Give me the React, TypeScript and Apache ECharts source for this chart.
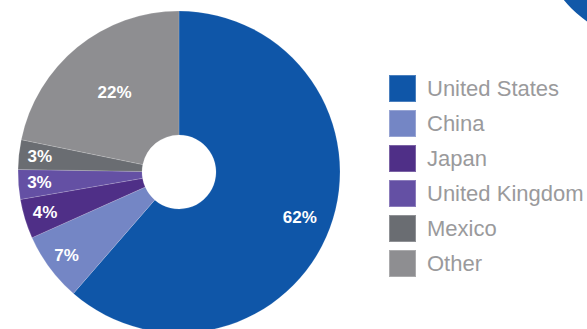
import React, { useEffect, useRef } from "react";
import * as echarts from "echarts";

const categories = ["United States", "China", "Japan", "United Kingdom", "Mexico", "Other"];
const values = [62, 7, 4, 3, 3, 22];
const colors = ["#0f56a8", "#7486c5", "#4f2f87", "#6450a4", "#6a6d72", "#8e8e91"];
// which label ring each slice's label sits on
const labelRing = ["mid", "outer", "outer", "outer", "outer", "inner"];

const CX = 179;
const CY = 172;
const R = 161;
const R0 = 37;

export default function App() {
  const ref = useRef<HTMLDivElement>(null);
  useEffect(() => {
    if (!ref.current) return;
    const chart = echarts.init(ref.current, undefined, { renderer: "svg" });
    const mainData = categories.map((name, i) => ({
      name,
      value: values[i],
      itemStyle: { color: colors[i] },
    }));
    const labelSeries = (ring: string, inner: number) => ({
      type: "pie",
      center: [CX, CY],
      radius: [inner, R],
      startAngle: 90,
      silent: true,
      legendHoverLink: false,
      animation: false,
      itemStyle: { color: "rgba(0,0,0,0)" },
      labelLine: { show: false },
      emphasis: { disabled: true },
      data: categories.map((name, i) => ({
        name: name + " ",
        value: values[i],
        label: {
          show: labelRing[i] === ring,
          position: "inside",
          formatter: "{c}%",
          color: "#ffffff",
          fontSize: 17,
          fontWeight: "bold",
          fontFamily: "Liberation Sans, Arial, sans-serif",
        },
      })),
    });
    chart.setOption({
      animation: false,
      legend: {
        orient: "vertical",
        left: 388,
        top: 74,
        padding: 0,
        itemWidth: 27,
        itemHeight: 27,
        itemGap: 6,
        icon: "rect",
        data: categories,
        selectedMode: false,
        textStyle: {
          color: "#9a9a9c",
          fontSize: 22,
          lineHeight: 24,
          fontFamily: "Liberation Sans, Arial, sans-serif",
          padding: [0, 0, 0, 6],
        },
      },
      graphic: [
        {
          type: "circle",
          shape: { cx: 650, cy: -70, r: 111 },
          style: { fill: "#1158a8" },
          silent: true,
        },
      ],
      series: [
        {
          type: "pie",
          center: [CX, CY],
          radius: [R0, R],
          startAngle: 90,
          label: { show: false },
          labelLine: { show: false },
          itemStyle: { borderColor: "rgba(255,255,255,0.25)", borderWidth: 0.6 },
          emphasis: { disabled: true },
          data: mainData,
        },
        labelSeries("inner", R0),
        labelSeries("mid", 91),
        labelSeries("outer", 113),
      ],
    });
    return () => chart.dispose();
  }, []);
  return (
    <div
      ref={ref}
      style={{ position: "fixed", left: 0, top: 0, width: 587, height: 329, background: "#ffffff" }}
    />
  );
}
